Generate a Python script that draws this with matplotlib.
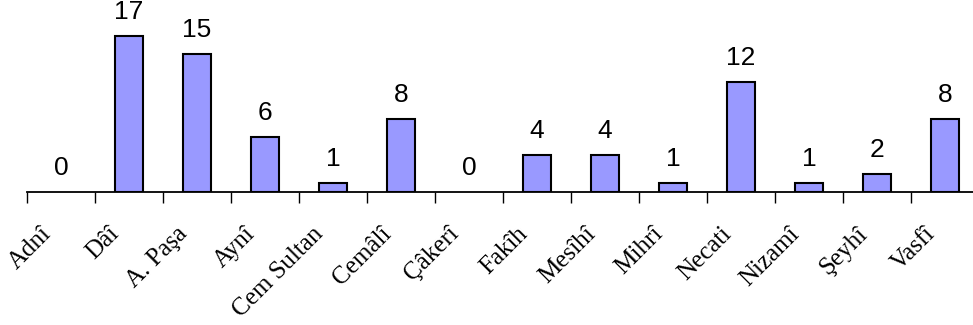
import numpy as np
import matplotlib
matplotlib.use("Agg")
import matplotlib.pyplot as plt
from matplotlib.transforms import ScaledTranslation

poets = ["Adnî", "Dâî", "A. Paşa", "Aynî", "Cem Sultan", "Cemâlî", "Çâkerî",
         "Fakîh", "Mesîhî", "Mihrî", "Necati", "Nizamî", "Şeyhî", "Vasfî"]
counts = [0, 17, 15, 6, 1, 8, 0, 4, 4, 1, 12, 1, 2, 8]

fig = plt.figure(figsize=(9.73, 3.25), dpi=100)
# axis runs a little past the right edge of the figure
ax = fig.add_axes([27 / 973, 133 / 325, 952 / 973, 18 * 9.18 / 325])

x = np.arange(len(poets))
ax.bar(x, counts, width=0.41, color="#9999ff",
       edgecolor=["none" if v == 0 else "black" for v in counts], linewidth=1.5)

for xi, v in zip(x, counts):
    ax.annotate(str(v), (xi, v), xytext=(0, 8.5), textcoords="offset points",
                ha="center", va="bottom", fontsize=19, family="Liberation Sans",
                annotation_clip=False)

ax.set_xlim(-0.5, len(poets) - 0.5)
ax.set_ylim(0, 18)

for s in ["left", "right", "top"]:
    ax.spines[s].set_visible(False)
ax.spines["bottom"].set_linewidth(1.3)
ax.set_yticks([])

# tick marks between categories, labels under the categories
ax.set_xticks(np.arange(len(poets) + 1) - 0.5)
ax.set_xticklabels([])
ax.tick_params(axis="x", which="major", length=8, width=1, direction="out")
ax.set_xticks(x, minor=True)
ax.set_xticklabels(poets, minor=True, rotation=45, ha="right", rotation_mode="anchor",
                   fontsize=18, family="Liberation Serif")
ax.tick_params(axis="x", which="minor", length=0, pad=17)
shift = ScaledTranslation(-21 / 100, -7 / 100, fig.dpi_scale_trans)
for lab in ax.get_xticklabels(minor=True):
    lab.set_transform(lab.get_transform() + shift)

fig.savefig("out.png", dpi=100)
